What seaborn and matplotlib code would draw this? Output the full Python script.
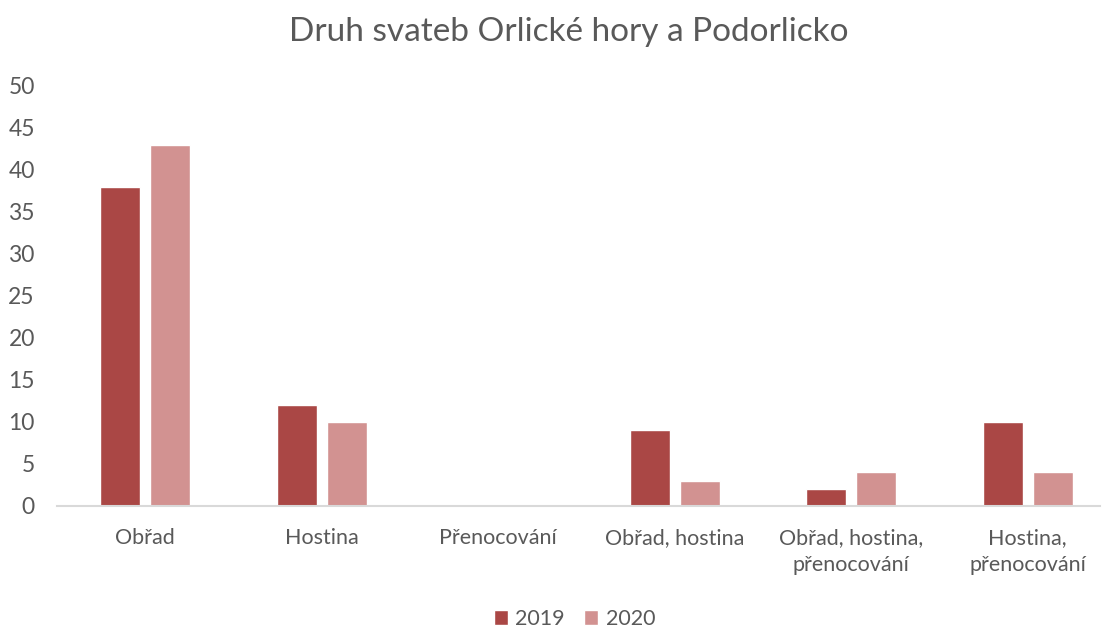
import matplotlib
matplotlib.use("Agg")
import matplotlib.pyplot as plt
import seaborn as sns
import pandas as pd

categories = ["Obřad", "Hostina", "Přenocování", "Obřad, hostina",
              "Obřad, hostina,\npřenocování", "Hostina,\npřenocování"]
values_2019 = [38, 12, 0, 9, 2, 10]
values_2020 = [43, 10, 0, 3, 4, 4]
years = ["2019", "2020"]
colors = ["#AA4745", "#D29291"]

df = pd.DataFrame({
    "cat": categories * 2,
    "val": values_2019 + values_2020,
    "year": [years[0]] * len(categories) + [years[1]] * len(categories),
})

sns.set_style("white")
plt.rcParams['font.family'] = ['Lato', 'DejaVu Sans']
txt = "#595959"

fig = plt.figure(figsize=(11.03, 6.28), dpi=100)
ax = fig.add_axes([57/1103, 1 - 506/628, (1100 - 57)/1103, (506 - 86)/628])

sns.barplot(data=df, x="cat", y="val", hue="year", order=categories,
            hue_order=years, palette=colors, width=0.567, gap=0.2,
            saturation=1, ax=ax, legend=True)

ax.set_xlim(-0.5, 5.41)
ax.set_ylim(0, 50)
ax.set_yticks(range(0, 51, 5))
ax.set_xlabel("")
ax.set_ylabel("")
for s in ["top", "right", "left"]:
    ax.spines[s].set_visible(False)
ax.spines["bottom"].set_color("#D9D9D9")
ax.spines["bottom"].set_linewidth(1.5)
ax.tick_params(axis="both", length=0, colors=txt)
ax.tick_params(axis="x", labelsize=15.5, pad=16)
ax.tick_params(axis="y", labelsize=16.5, pad=16)
for lab in ax.get_xticklabels():
    lab.set_linespacing(1.45)

fig.text(0.516, 1 - 32/628, "Druh svateb Orlické hory a Podorlicko",
         ha="center", va="center", fontsize=24, color=txt)

handles, labels = ax.get_legend_handles_labels()
ax.get_legend().remove()
fig.legend(handles, labels, loc="center", bbox_to_anchor=(0.521, 1 - 619/628),
           ncol=2, frameon=False, fontsize=15.5, labelcolor=txt,
           handlelength=0.65, handleheight=0.65, handletextpad=0.35,
           columnspacing=0.9)

fig.savefig("out.png", dpi=100)
